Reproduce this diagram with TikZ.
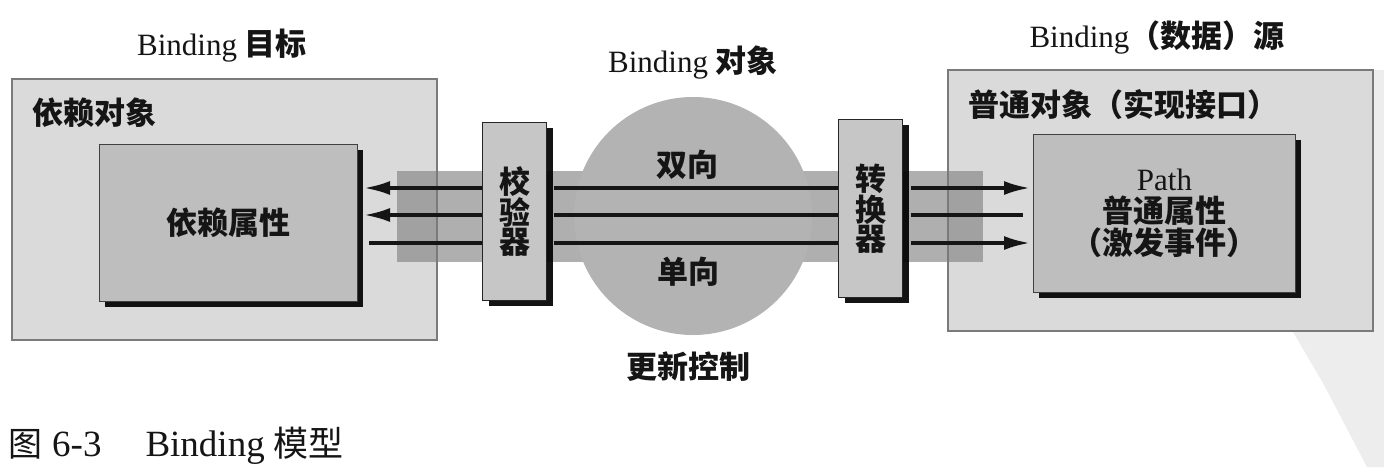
\documentclass[tikz,border=0pt]{standalone}
\usepackage{fontspec}
\setmainfont{Liberation Serif}
\newfontfamily\cjk{Noto Sans CJK SC}
\usetikzlibrary{arrows.meta,shadows}
\definecolor{outerfill}{HTML}{DADADA}
\definecolor{outerline}{HTML}{7A7A7A}
\definecolor{propfill}{HTML}{BEBEBE}
\definecolor{circfill}{HTML}{B3B3B3}
\definecolor{bandcol}{HTML}{7B7B7B}
\definecolor{procfill}{HTML}{C6C6C6}
\definecolor{ink}{HTML}{151515}
\definecolor{scanfill}{HTML}{EDEDED}
\tikzset{
  lbl/.style={font=\fontsize{31}{36}\selectfont, text=ink, inner sep=0pt},
  outerbox/.style={draw=outerline, line width=1.6pt, fill=outerfill, anchor=north west, inner sep=0pt, minimum width=425pt, minimum height=261pt},
  propbox/.style={draw=black!75, line width=1pt, fill=propfill, anchor=north west, inner sep=0pt, text=ink,
    drop shadow={shadow xshift=5pt, shadow yshift=-5pt, fill=black, opacity=0.92}},
  procbox/.style={draw=black!85, line width=1.4pt, fill=procfill, anchor=north west, inner sep=0pt, text=ink,
    minimum width=64pt, minimum height=178pt, align=center, font=\fontsize{31}{29}\selectfont\cjk\bfseries,
    drop shadow={shadow xshift=6pt, shadow yshift=-5pt, fill=black, opacity=0.92}},
  conn/.style={draw=ink, line width=3.4pt},
  tip/.style={-{Latex[length=26pt,width=14pt]}},
}
\begin{document}
\begin{tikzpicture}[x=1pt,y=-1pt]
\useasboundingbox (0,0) rectangle (1384,467);
\fill[white] (0,0) rectangle (1384,467);
\fill[scanfill] (1373,70) -- (1384,70) -- (1384,467) -- (1367,467) -- (1323,383) -- (1293,332) -- (1373,332) -- cycle;
% outer boxes
\node[outerbox] (tgtobj) at (11,78) {};
\node[outerbox] (srcobj) at (947,69) {};
% band and binding object
\node[fill=bandcol, opacity=0.6, anchor=north west, minimum width=586pt, minimum height=91pt, inner sep=0pt] (band) at (397,171) {};
\node[circle, fill=circfill, minimum size=238pt, inner sep=0pt] (bobj) at (693,216) {};
% inner property boxes
\node[propbox, minimum width=258pt, minimum height=157pt, font=\fontsize{31}{36}\selectfont\cjk\bfseries] (tgtprop) at (99,144) {依赖属性};
\node[propbox, minimum width=262pt, minimum height=158pt, align=center, font=\fontsize{31}{32}\selectfont] (srcprop) at (1033,134)
  {Path\\{\cjk\bfseries 普通属性}\\{\cjk\bfseries （激发事件）}};
% validator and converter
\node[procbox] (val) at (482,122) {校\\验\\器};
\node[procbox] (conv) at (838,119) {转\\换\\器};
% connectors
\foreach \yy in {188,215,243}
  \draw[conn, shorten <=7pt] (val.east |- 0,\yy) -- (conv.west |- 0,\yy);
\draw[conn, tip, shorten >=6pt] (val.west |- 0,188) -- (tgtprop.east |- 0,188);
\draw[conn, tip, shorten >=6pt] (val.west |- 0,215) -- (tgtprop.east |- 0,215);
\draw[conn, shorten >=11pt] (val.west |- 0,243) -- (tgtprop.east |- 0,243);
\draw[conn, tip, shorten <=8pt, shorten >=3pt] (conv.east |- 0,188) -- (srcprop.west |- 0,188);
\draw[conn, shorten <=8pt, shorten >=10pt] (conv.east |- 0,215) -- (srcprop.west |- 0,215);
\draw[conn, tip, shorten <=8pt, shorten >=3pt] (conv.east |- 0,243) -- (srcprop.west |- 0,243);
% labels
\node[lbl] (tgttitle) at (222,46) {Binding {\cjk\bfseries 目标}};
\node[lbl] (bobjtitle) at (693,63) {Binding {\cjk\bfseries 对象}};
\node[lbl] (srctitle) at (1157,37) {Binding{\cjk\bfseries （数据）源}};
\node[lbl, anchor=west] (tgtobjlbl) at (32,113) {\cjk\bfseries 依赖对象};
\node[lbl, anchor=west] (srcobjlbl) at (968,105) {\cjk\bfseries 普通对象（实现接口）};
\node[lbl] (twoway) at (687,165) {\cjk\bfseries 双向};
\node[lbl] (oneway) at (688,272) {\cjk\bfseries 单向};
\node[lbl] (update) at (688,367) {\cjk\bfseries 更新控制};
\node[lbl, anchor=base west] (caption) at (8,456)
  {{\fontsize{34}{40}\selectfont\cjk 图}\hspace{10pt}{\fontsize{37}{42}\selectfont 6-3\hspace{44pt}Binding}\hspace{9pt}{\fontsize{35}{40}\selectfont\cjk 模型}};
\end{tikzpicture}
\end{document}
